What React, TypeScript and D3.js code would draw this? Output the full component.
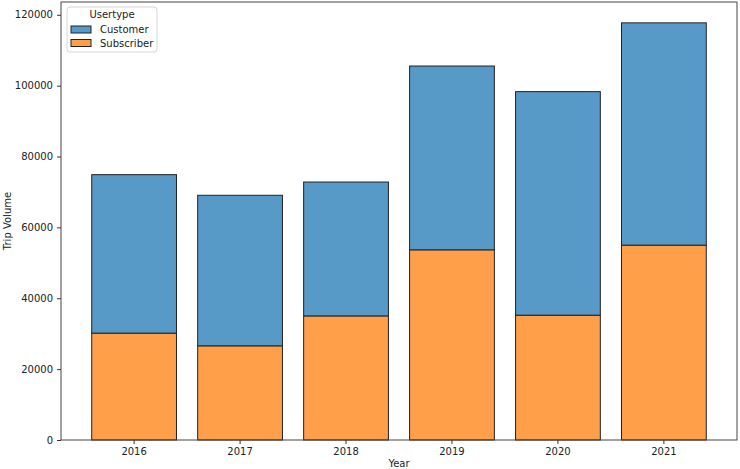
import * as d3 from 'd3';
import { useEffect, useRef } from 'react';

const years = ['2016', '2017', '2018', '2019', '2020', '2021'];
const subscriber = [30150, 26580, 35020, 53670, 35220, 54990];
const customer = [44730, 42480, 37780, 51870, 63090, 62730];
const yTicks = [0, 20000, 40000, 60000, 80000, 100000, 120000];

const WIDTH = 740;
const HEIGHT = 469;

export default function App(): React.ReactElement {
  const svgRef = useRef<SVGSVGElement>(null);

  useEffect(() => {
    if (!svgRef.current) return;
    const svg = d3.select(svgRef.current);
    svg.selectAll('*').remove();

    const margin = { top: 2, right: 3, bottom: 29, left: 61 };
    const innerWidth = WIDTH - margin.left - margin.right;
    const innerHeight = HEIGHT - margin.top - margin.bottom;
    const font = 'DejaVu Sans, sans-serif';

    const rows = years.map((year, i) => ({
      year,
      Subscriber: subscriber[i],
      Customer: customer[i],
    }));
    const stacked = d3.stack<(typeof rows)[number]>().keys(['Subscriber', 'Customer'])(rows);
    const maxTotal = d3.max(rows, (d) => d.Subscriber + d.Customer) || 0;

    const x = d3
      .scaleBand()
      .domain(years)
      .range([0, innerWidth])
      .paddingInner(0.2)
      .paddingOuter(0.29);
    const y = d3
      .scaleLinear()
      .domain([0, maxTotal * 1.05])
      .range([innerHeight, 0]);

    const colors: Record<string, string> = { Subscriber: '#ff9f4a', Customer: '#5799c7' };

    const g = svg.append('g').attr('transform', `translate(${margin.left}, ${margin.top})`);

    // Bars
    stacked.forEach((layer) => {
      g.append('g')
        .selectAll('rect')
        .data(layer)
        .enter()
        .append('rect')
        .attr('x', (d) => x(d.data.year) || 0)
        .attr('width', x.bandwidth())
        .attr('y', (d) => y(d[1]))
        .attr('height', (d) => y(d[0]) - y(d[1]))
        .attr('fill', colors[layer.key])
        .attr('stroke', '#222')
        .attr('stroke-width', 1);
    });

    // Frame
    g.append('rect')
      .attr('width', innerWidth)
      .attr('height', innerHeight)
      .attr('fill', 'none')
      .attr('stroke', '#444')
      .attr('stroke-width', 1);

    // X axis
    g.append('g')
      .attr('transform', `translate(0, ${innerHeight})`)
      .call(d3.axisBottom(x).tickSizeOuter(0).tickSize(4).tickPadding(4))
      .call((a) => a.select('.domain').remove())
      .call((a) => a.selectAll('.tick line').attr('stroke', '#333'))
      .call((a) =>
        a.selectAll('.tick text').attr('fill', '#222').style('font-size', '10px').style('font-family', font)
      );

    // Y axis
    g.append('g')
      .call(
        d3
          .axisLeft(y)
          .tickValues(yTicks)
          .tickFormat((d) => String(d))
          .tickSizeOuter(0)
          .tickSize(4)
          .tickPadding(4)
      )
      .call((a) => a.select('.domain').remove())
      .call((a) => a.selectAll('.tick line').attr('stroke', '#333'))
      .call((a) =>
        a.selectAll('.tick text').attr('fill', '#222').style('font-size', '10px').style('font-family', font)
      );

    // Axis labels
    svg
      .append('text')
      .attr('x', margin.left + innerWidth / 2)
      .attr('y', HEIGHT - 2)
      .attr('text-anchor', 'middle')
      .attr('fill', '#222')
      .style('font-size', '10px')
      .style('font-family', font)
      .text('Year');

    svg
      .append('text')
      .attr('transform', `translate(11, ${margin.top + innerHeight / 2}) rotate(-90)`)
      .attr('text-anchor', 'middle')
      .attr('fill', '#222')
      .style('font-size', '10px')
      .style('font-family', font)
      .text('Trip Volume');

    // Legend
    const legend = svg.append('g').attr('transform', 'translate(67, 7)');
    legend
      .append('rect')
      .attr('width', 90)
      .attr('height', 45)
      .attr('rx', 3)
      .attr('fill', 'rgba(255,255,255,0.8)')
      .attr('stroke', '#d6d6d6');
    legend
      .append('text')
      .attr('x', 45)
      .attr('y', 11)
      .attr('text-anchor', 'middle')
      .attr('fill', '#222')
      .style('font-size', '10px')
      .style('font-family', font)
      .text('Usertype');
    ['Customer', 'Subscriber'].forEach((key, i) => {
      const row = legend.append('g').attr('transform', `translate(4, ${19 + i * 13.5})`);
      row
        .append('rect')
        .attr('width', 20)
        .attr('height', 7)
        .attr('fill', colors[key])
        .attr('stroke', '#222')
        .attr('stroke-width', 1);
      row
        .append('text')
        .attr('x', 29)
        .attr('y', 7)
        .attr('fill', '#222')
        .style('font-size', '10px')
        .style('font-family', font)
        .text(key);
    });
  }, []);

  return (
    <svg
      ref={svgRef}
      width={WIDTH}
      height={HEIGHT}
      style={{ position: 'absolute', left: 0, top: 0, background: '#fff' }}
    />
  );
}
